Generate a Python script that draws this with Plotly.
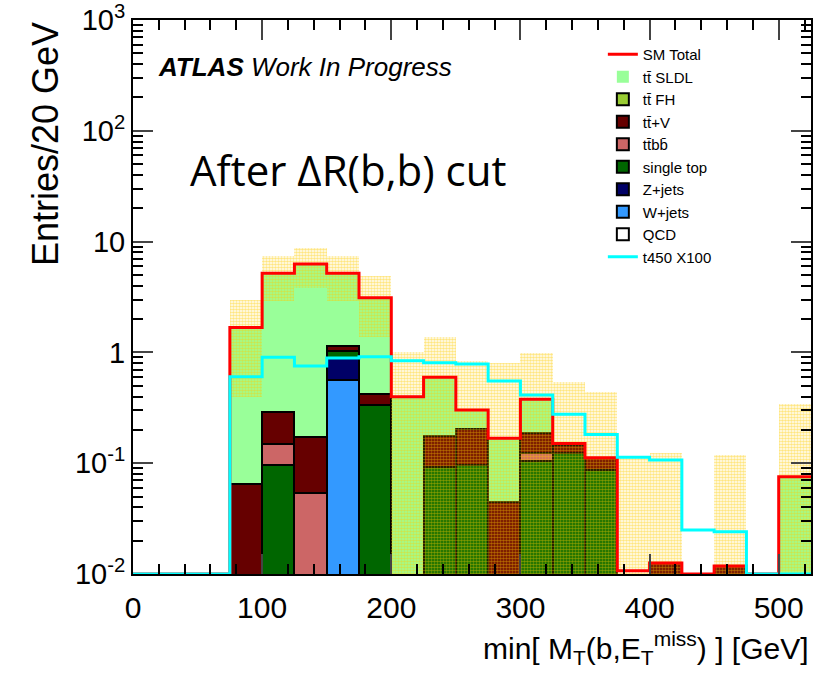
import plotly.graph_objects as go

# ---------------- data (21 bins of 25 GeV from 0 to 525) ----------------
bin_edges = [0, 25, 50, 75, 100, 125, 150, 175, 200, 225, 250, 275, 300,
             325, 350, 375, 400, 425, 450, 475, 500, 525]

qcd        = [0, 0, 0, 0, 0, 0, 0, 0, 0, 0, 0, 0, 0, 0, 0, 0.0107, 0, 0, 0, 0, 0]
w_jets     = [0, 0, 0, 0, 0, 0, 0.564, 0, 0, 0, 0, 0, 0, 0, 0, 0, 0, 0, 0, 0, 0]
z_jets     = [0, 0, 0, 0, 0, 0, 0.321, 0, 0, 0, 0, 0, 0, 0, 0, 0, 0, 0, 0, 0, 0]
single_top = [0, 0, 0, 0, 0.0963, 0, 0.145, 0.335, 0, 0.093, 0.0963, 0, 0.105,
              0.123, 0.0868, 0, 0, 0, 0, 0, 0]
ttbb       = [0, 0, 0, 0, 0.052, 0.0535, 0, 0, 0, 0, 0, 0, 0.018, 0, 0, 0, 0, 0, 0, 0, 0]
ttv        = [0, 0, 0, 0.0645, 0.144, 0.1195, 0.11, 0.084, 0, 0.083, 0.106, 0.0449,
              0.063, 0.023, 0.024, 0, 0.0126, 0, 0.0118, 0, 0]
tt_fh      = [0] * 21
tt_sldl    = [0, 0, 0, 1.61, 4.88, 6.11, 4.03, 2.70, 0.398, 0.42, 0.10, 0.123, 0.192,
              0.005, 0.001, 0, 0, 0, 0, 0, 0.0755]
sm_err     = [0, 0, 0, 1.28, 2.27, 2.5, 2.24, 1.74, 0.61, 0.77, 0.54, 0.64, 0.62,
              0.39, 0.33, 0.10, 0.11, 0, 0.107, 0, 0.27]
signal_x100 = [0, 0, 0, 0.604, 0.904, 0.754, 0.89, 0.914, 0.84, 0.808, 0.786, 0.552,
               0.412, 0.276, 0.182, 0.113, 0.107, 0.025, 0.0241, 0, 0]

x_tickvals = [0, 100, 200, 300, 400, 500]
y_tickvals = [0.01, 0.1, 1, 10, 100, 1000]
y_ticktext = ["10<sup>-2</sup>", "10<sup>-1</sup>", "1", "10", "10<sup>2</sup>", "10<sup>3</sup>"]

# ---------------- derived ----------------
nb = len(bin_edges) - 1
centers = [(bin_edges[i] + bin_edges[i + 1]) / 2 for i in range(nb)]
width = bin_edges[1] - bin_edges[0]
YMIN = 1e-2

# stack bottom -> top
stack = [
    ("QCD", qcd, "white", True),
    ("W+jets", w_jets, "#3399FF", True),
    ("Z+jets", z_jets, "#000066", True),
    ("single top", single_top, "#006600", True),
    ("tt\u0304bb\u0304", ttbb, "#CC6666", True),
    ("tt\u0304+V", ttv, "#660000", True),
    ("tt\u0304 FH", tt_fh, "#99CC33", True),
    ("tt\u0304 SLDL", tt_sldl, "#99FF99", False),
]
cums = []
run = [0.0] * nb
for name, vals, col, outline in stack:
    run = [run[i] + vals[i] for i in range(nb)]
    cums.append(list(run))
total = cums[-1]

legend_rank = {"tt\u0304 SLDL": 2, "tt\u0304 FH": 3, "tt\u0304+V": 4, "tt\u0304bb\u0304": 5,
               "single top": 6, "Z+jets": 7, "W+jets": 8, "QCD": 9}

fig = go.Figure()

# draw top of stack first, so lower components overlay
for (name, vals, col, outline), cum in reversed(list(zip(stack, cums))):
    yv = [c if c > 0 else None for c in cum]
    fig.add_trace(go.Bar(
        x=centers, y=yv, width=width, name=name,
        marker=dict(color=col,
                    line=dict(color="black", width=2 if outline else 0)),
        legendrank=legend_rank[name], showlegend=True,
    ))

# uncertainty band (hatched)
band_base, band_len = [], []
for t, e in zip(total, sm_err):
    if e > 0:
        b = max(t - e, 1e-4)
        band_base.append(b)
        band_len.append(t + e - b)
    else:
        band_base.append(None)
        band_len.append(None)
fig.add_trace(go.Bar(
    x=centers, y=band_len, base=band_base, width=width, showlegend=False,
    marker=dict(color="rgba(0,0,0,0)", line=dict(width=0),
                pattern=dict(shape=".", fgcolor="#FFCC00", size=3, solidity=0.6,
                             fillmode="overlay")),
))

def step(vals):
    xs = bin_edges[:-1] + [bin_edges[-1]]
    ys = [max(v, YMIN) for v in vals] + [max(vals[-1], YMIN)]
    return xs, ys

sx, sy = step(total)
fig.add_trace(go.Scatter(x=sx, y=sy, mode="lines", line=dict(color="#FF0000", width=3, shape="hv"),
                         name="SM Total", legendrank=1))
cx, cy = step(signal_x100)
fig.add_trace(go.Scatter(x=cx, y=cy, mode="lines", line=dict(color="#00FFFF", width=3, shape="hv"),
                         name="t450 X100", legendrank=10))

font = "Liberation Sans, Arial, Helvetica, sans-serif"

fig.update_layout(
    width=826, height=676,
    margin=dict(l=133, r=15, t=20, b=102, autoexpand=False),
    paper_bgcolor="white", plot_bgcolor="white",
    barmode="overlay", bargap=0,
    font=dict(family=font, color="black"),
    legend=dict(x=0.693, y=(574 - 38) / 554, xanchor="left", yanchor="top",
                bgcolor="rgba(0,0,0,0)", font=dict(size=15, family=font),
                traceorder="normal", itemwidth=30, tracegroupgap=0),
    xaxis=dict(range=[0, 525], tickvals=x_tickvals, ticks="inside", ticklen=20, tickwidth=2,
               showline=True, linecolor="black", linewidth=2, mirror="ticks", automargin=False,
               showgrid=False, zeroline=False, tickfont=dict(size=30, family=font),
               minor=dict(dtick=20, ticks="inside", ticklen=10, tickwidth=1.5, tickcolor="black"),
               ticklabelstandoff=6),
    yaxis=dict(type="log", range=[-2.0, 3.0004], tickvals=y_tickvals, ticktext=y_ticktext,
               ticks="inside", ticklen=20, tickwidth=2, ticklabeloverflow="allow", automargin=False,
               showline=True, linecolor="black", linewidth=2, mirror="ticks",
               showgrid=False, zeroline=False, tickfont=dict(size=29, family=font),
               minor=dict(tickvals=[m * 10 ** k for k in range(-2, 3) for m in range(2, 10)],
                          ticks="inside", ticklen=10, tickwidth=1.5, tickcolor="black")),
    annotations=[
        dict(text="Entries/20 GeV", textangle=-90, xref="paper", yref="paper",
             x=(45 - 133) / 678, y=1.0, xanchor="center", yanchor="top",
             showarrow=False, font=dict(size=36, family=font)),
        dict(text="min[ M<sub>T</sub>(b,E<sub>T</sub><sup>miss</sup>) ] [GeV]",
             xref="paper", yref="paper", x=1.0, y=(574 - 648) / 554,
             xanchor="right", yanchor="middle", showarrow=False,
             font=dict(size=30, family=font)),
        dict(text="<b><i>ATLAS</i></b><i> Work In Progress</i>", xref="paper", yref="paper",
             x=(156 - 133) / 678, y=(574 - 67) / 554, xanchor="left", yanchor="middle",
             showarrow=False, font=dict(size=26, family=font)),
        dict(text="After \u0394R(b,b) cut", xref="paper", yref="paper",
             x=(188 - 133) / 678, y=(574 - 170) / 554, xanchor="left", yanchor="middle",
             showarrow=False, font=dict(size=42, family="Open Sans, sans-serif")),
    ],
)

fig.write_html("out.html")
